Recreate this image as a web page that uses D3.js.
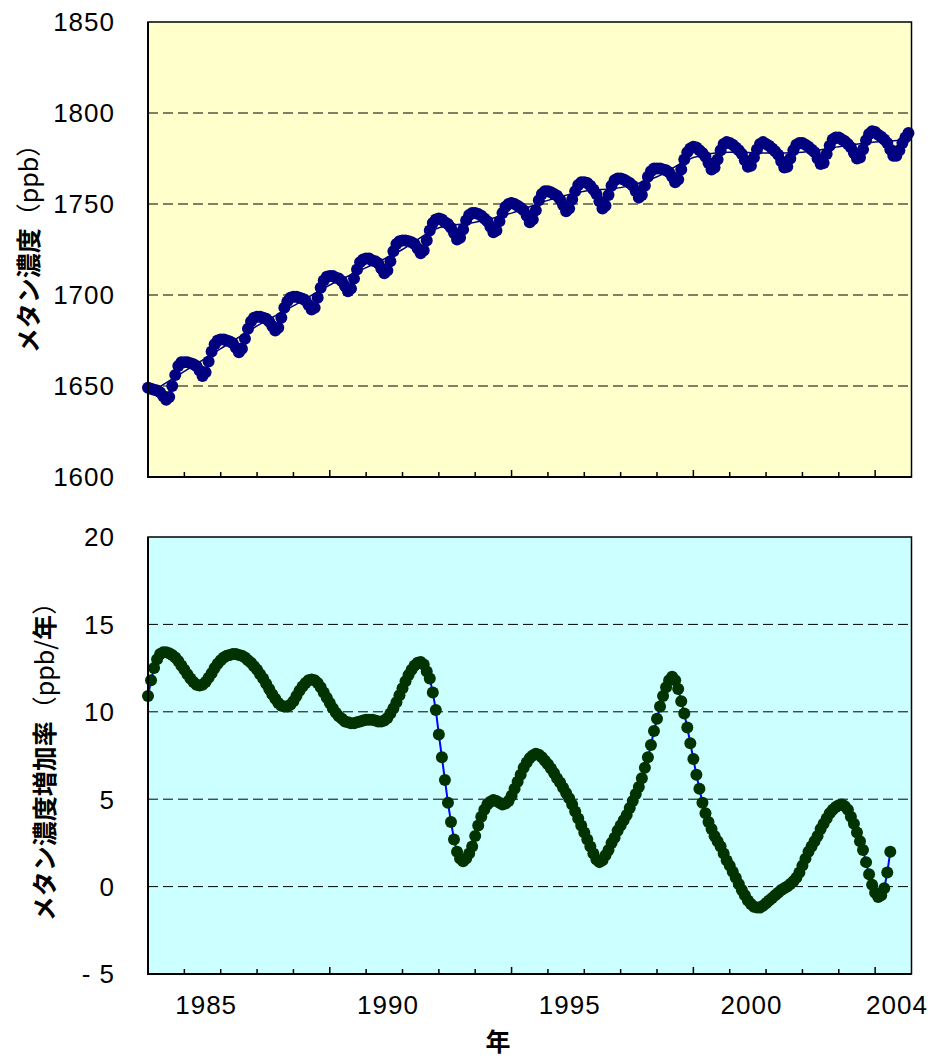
<!DOCTYPE html>
<html><head><meta charset="utf-8">
<script src="https://cdn.jsdelivr.net/npm/d3@7"></script>
<style>
html,body{margin:0;padding:0;background:#fff;}
svg{display:block;}
</style></head>
<body>
<script>
// ---- data ----
const startYear = 1984;           // first monthly sample (January 1984)
const endYear = 2005;
// monthly global CH4 concentration (ppb), Jan 1984 - Dec 2004
const ch4Monthly = [
1649,1648.5,1648,1647.5,1646.5,1644.5,1642.5,1644,1650,1656,1661,1663,
1663,1663,1662.5,1662,1661,1658.5,1655.5,1657.5,1663.5,1669,1673,1675,
1675.5,1675.5,1675,1674.5,1673.5,1671,1668.5,1670.5,1676,1681.5,1685.5,1687.5,
1688,1688,1687.5,1687,1685.5,1683,1680.5,1682,1687.5,1693,1696.5,1698.5,
1699,1699,1698.5,1698,1697,1694.5,1692,1693,1698.5,1704,1708,1710,
1710.5,1710.5,1709.5,1709,1707.5,1705,1702,1703.5,1709,1714,1718,1719.5,
1720,1720,1719,1718.5,1717.5,1714.5,1712,1713.5,1718.5,1724,1728,1729.5,
1730,1730,1729.5,1729,1728,1725.5,1723,1724.5,1730,1735.5,1739.5,1741.5,
1742,1741.5,1740,1739,1737,1734,1730.5,1731.5,1736,1741,1744,1745,
1745,1744.5,1743.5,1742,1740.5,1737.5,1734.5,1735.5,1740.5,1745,1748.5,1750,
1750.5,1750,1749,1748,1746.5,1743.5,1740,1741.5,1746.5,1752,1755.5,1757,
1757,1756.5,1755.5,1754.5,1752.5,1749.5,1746,1747.5,1752.5,1757,1760.5,1762,
1762,1761.5,1760,1758,1755.5,1751.5,1747.5,1749,1755,1760,1763,1764,
1764,1763.5,1762.5,1761.5,1760,1757,1753.5,1755,1760,1765,1768,1769.5,
1769.5,1769.5,1769,1768.5,1767.5,1765,1762,1763.5,1769,1774.5,1778.5,1780.5,
1781.5,1781,1779.5,1778,1776,1772.5,1769,1770,1774.5,1779.5,1783,1784,
1783.5,1782.5,1781,1779.5,1777.5,1774,1770.5,1771,1775.5,1780,1783,1784,
1783,1782,1780.5,1779,1777,1773.5,1770,1770.5,1775,1779.5,1782.5,1783.5,
1783.5,1782.5,1781.5,1780,1778.5,1775,1772,1772.5,1777.5,1782,1785.5,1786.5,
1786.5,1785.5,1784.5,1783,1781,1778,1775,1775.5,1780,1785,1788.5,1790,
1789.5,1788,1787,1785.5,1783.5,1780,1776.5,1776.5,1779.5,1783.5,1786.5,1789
];
// deseasonalised trend (ppb) at the start of each year
const trendYears = [1984,1985,1986,1987,1988,1989,1990,1991,1992,1993,1994,1995,1996,1997,1998,1999,2000,2001,2002,2003,2004,2005];
const trendValues = [1645.5,1658,1670.5,1683,1694,1705.5,1715,1725,1737,1740,1745,1752,1757,1759,1765,1775.5,1778.5,1778,1778.5,1781.5,1784,1785.5];
// monthly growth rate (ppb/year), Jan 1984 - Jun 2004
const growthMonthly = [
10.9,11.8,12.5,13.0,13.3,13.4,13.4,13.35,13.25,13.1,12.9,12.65,
12.4,12.15,11.9,11.7,11.55,11.5,11.55,11.7,11.95,12.2,12.5,12.75,
12.95,13.1,13.2,13.25,13.3,13.3,13.25,13.2,13.1,12.95,12.8,12.6,
12.4,12.15,11.9,11.6,11.3,11.0,10.75,10.5,10.35,10.3,10.3,10.4,
10.6,10.9,11.2,11.45,11.65,11.8,11.85,11.8,11.65,11.4,11.1,10.8,
10.5,10.2,9.95,9.75,9.6,9.45,9.4,9.35,9.35,9.4,9.45,9.5,
9.55,9.55,9.55,9.5,9.45,9.45,9.5,9.65,9.9,10.2,10.55,10.95,
11.35,11.75,12.1,12.4,12.65,12.8,12.85,12.7,12.3,11.9,11.1,10.1,
8.7,7.4,6.1,4.8,3.7,2.7,2.0,1.6,1.45,1.6,1.9,2.3,
2.9,3.5,4.0,4.4,4.7,4.85,4.95,4.9,4.8,4.7,4.75,4.9,
5.2,5.6,6.0,6.4,6.8,7.1,7.35,7.5,7.6,7.55,7.4,7.2,
7.0,6.75,6.5,6.2,5.95,5.65,5.35,5.05,4.7,4.3,3.9,3.5,
3.1,2.7,2.3,1.9,1.55,1.4,1.5,1.8,2.1,2.5,2.8,3.2,
3.5,3.8,4.1,4.5,4.9,5.3,5.7,6.2,6.8,7.4,8.1,8.9,
9.6,10.3,10.9,11.4,11.8,12.0,11.8,11.3,10.6,9.9,9.1,8.2,
7.3,6.4,5.6,4.8,4.2,3.7,3.3,2.9,2.6,2.3,1.9,1.5,
1.2,0.85,0.5,0.15,-0.2,-0.5,-0.8,-1.0,-1.15,-1.2,-1.2,-1.1,
-0.95,-0.8,-0.65,-0.5,-0.35,-0.2,-0.1,0.0,0.15,0.3,0.5,0.8,
1.2,1.6,2.0,2.3,2.6,2.9,3.3,3.6,3.9,4.2,4.4,4.55,
4.65,4.7,4.6,4.4,4.0,3.6,3.1,2.6,2.1,1.4,0.7,0.1,
-0.35,-0.6,-0.5,-0.1,0.8,2.0
];
const topTicks = [1600,1650,1700,1750,1800,1850];
const bottomTicks = [-5,0,5,10,15,20];
const yearTicks = d3.range(1985, 2005);
const majorYearTicks = [1989,1994,1999,2004];
const xLabelYears = [1985,1990,1995,2000,2004];
// titles split into Japanese (heavier) and Latin (regular) runs
const topTitleParts = [["メタン濃度", true], ["（ppb）", false]];
const bottomTitleParts = [["メタン濃度増加率", true], ["（ppb/", false], ["年", true], ["）", false]];
const xTitle = "年";

// ---- layout ----
const W = 933, H = 1059;
const PL = 148, PR = 911.5;
const topP = {t: 22, b: 477};
const botP = {t: 537, b: 974};
const numFont = "'Liberation Sans', Arial, sans-serif";
const jpFont = "'Noto Sans CJK JP', sans-serif";

const svg = d3.select("body").append("svg").attr("width", W).attr("height", H);

const x = d3.scaleLinear().domain([startYear, endYear]).range([PL, PR]);
const yTop = d3.scaleLinear().domain([1600, 1850]).range([topP.b, topP.t]);
const yBot = d3.scaleLinear().domain([-5, 20]).range([botP.b, botP.t]);

const monthX = i => x(startYear + i / 12);

function panel(p, y, ticks, bg) {
  svg.append("rect").attr("x", PL).attr("y", p.t).attr("width", PR - PL).attr("height", p.b - p.t)
    .attr("fill", bg);
  svg.append("g").selectAll("line").data(ticks.slice(1, -1)).join("line")
    .attr("x1", PL).attr("x2", PR).attr("y1", d => y(d)).attr("y2", d => y(d))
    .attr("stroke", "#000").attr("stroke-width", 1).attr("stroke-dasharray", "10,5");
}
function frame(p, y, ticks, fmt) {
  svg.append("rect").attr("x", PL).attr("y", p.t).attr("width", PR - PL).attr("height", p.b - p.t)
    .attr("fill", "none").attr("stroke", "#000").attr("stroke-width", 1.5);
  svg.append("line").attr("x1", PL).attr("x2", PL).attr("y1", p.t).attr("y2", p.b + 1)
    .attr("stroke", "#000").attr("stroke-width", 2);
  svg.append("line").attr("x1", PL - 1).attr("x2", PR).attr("y1", p.b).attr("y2", p.b)
    .attr("stroke", "#000").attr("stroke-width", 2);
  svg.append("g").selectAll("line").data(yearTicks).join("line")
    .attr("x1", d => x(d)).attr("x2", d => x(d))
    .attr("y1", p.b).attr("y2", d => p.b - (majorYearTicks.includes(d) ? 7 : 5))
    .attr("stroke", "#000").attr("stroke-width", 1.5);
  svg.append("g").selectAll("text").data(ticks).join("text")
    .attr("x", 115).attr("y", d => y(d)).attr("dy", "0.36em")
    .attr("text-anchor", "end").attr("font-family", numFont).attr("font-size", 26)
    .attr("letter-spacing", 1).text(fmt);
}
function title(parts, tx, ty) {
  const t = svg.append("text").attr("transform", `translate(${tx},${ty}) rotate(-90)`)
    .attr("text-anchor", "middle").attr("font-family", jpFont).attr("font-size", 25);
  t.selectAll("tspan").data(parts).join("tspan")
    .attr("font-weight", d => d[1] ? "bold" : "normal").text(d => d[0]);
}

// top panel
panel(topP, yTop, topTicks, "#FFFFCC");
svg.append("path").datum(ch4Monthly)
  .attr("d", d3.line().x((d, i) => monthX(i)).y(d => yTop(d)))
  .attr("fill", "none").attr("stroke", "#000080").attr("stroke-width", 1.5);
svg.append("g").selectAll("circle").data(ch4Monthly).join("circle")
  .attr("cx", (d, i) => monthX(i)).attr("cy", d => yTop(d)).attr("r", 6).attr("fill", "#000080");
svg.append("path").datum(trendYears.map((yr, i) => [yr, trendValues[i]]))
  .attr("d", d3.line().x(d => x(d[0])).y(d => yTop(d[1])).curve(d3.curveMonotoneX))
  .attr("fill", "none").attr("stroke", "#000080").attr("stroke-width", 1.5);
frame(topP, yTop, topTicks, d => d);

// bottom panel
panel(botP, yBot, bottomTicks, "#CCFFFF");
svg.append("path").datum(growthMonthly)
  .attr("d", d3.line().x((d, i) => monthX(i)).y(d => yBot(d)))
  .attr("fill", "none").attr("stroke", "#0000FF").attr("stroke-width", 2);
svg.append("g").selectAll("circle").data(growthMonthly).join("circle")
  .attr("cx", (d, i) => monthX(i)).attr("cy", d => yBot(d)).attr("r", 6).attr("fill", "#003300");
frame(botP, yBot, bottomTicks, d => d < 0 ? "- " + Math.abs(d) : d);

// x labels
svg.append("g").selectAll("text").data(xLabelYears).join("text")
  .attr("x", d => x(d + 0.6)).attr("y", 1005).attr("dy", "0.36em")
  .attr("text-anchor", "middle").attr("font-family", numFont).attr("font-size", 26)
  .attr("letter-spacing", 1).text(d => d);

// titles
title(topTitleParts, 38, (topP.t + topP.b) / 2 - 7);
title(bottomTitleParts, 54, (botP.t + botP.b) / 2);
svg.append("text").attr("x", 498).attr("y", 1042).attr("dy", "0.36em")
  .attr("text-anchor", "middle").attr("font-family", jpFont).attr("font-size", 25)
  .attr("font-weight", "bold").text(xTitle);
</script>
</body></html>
